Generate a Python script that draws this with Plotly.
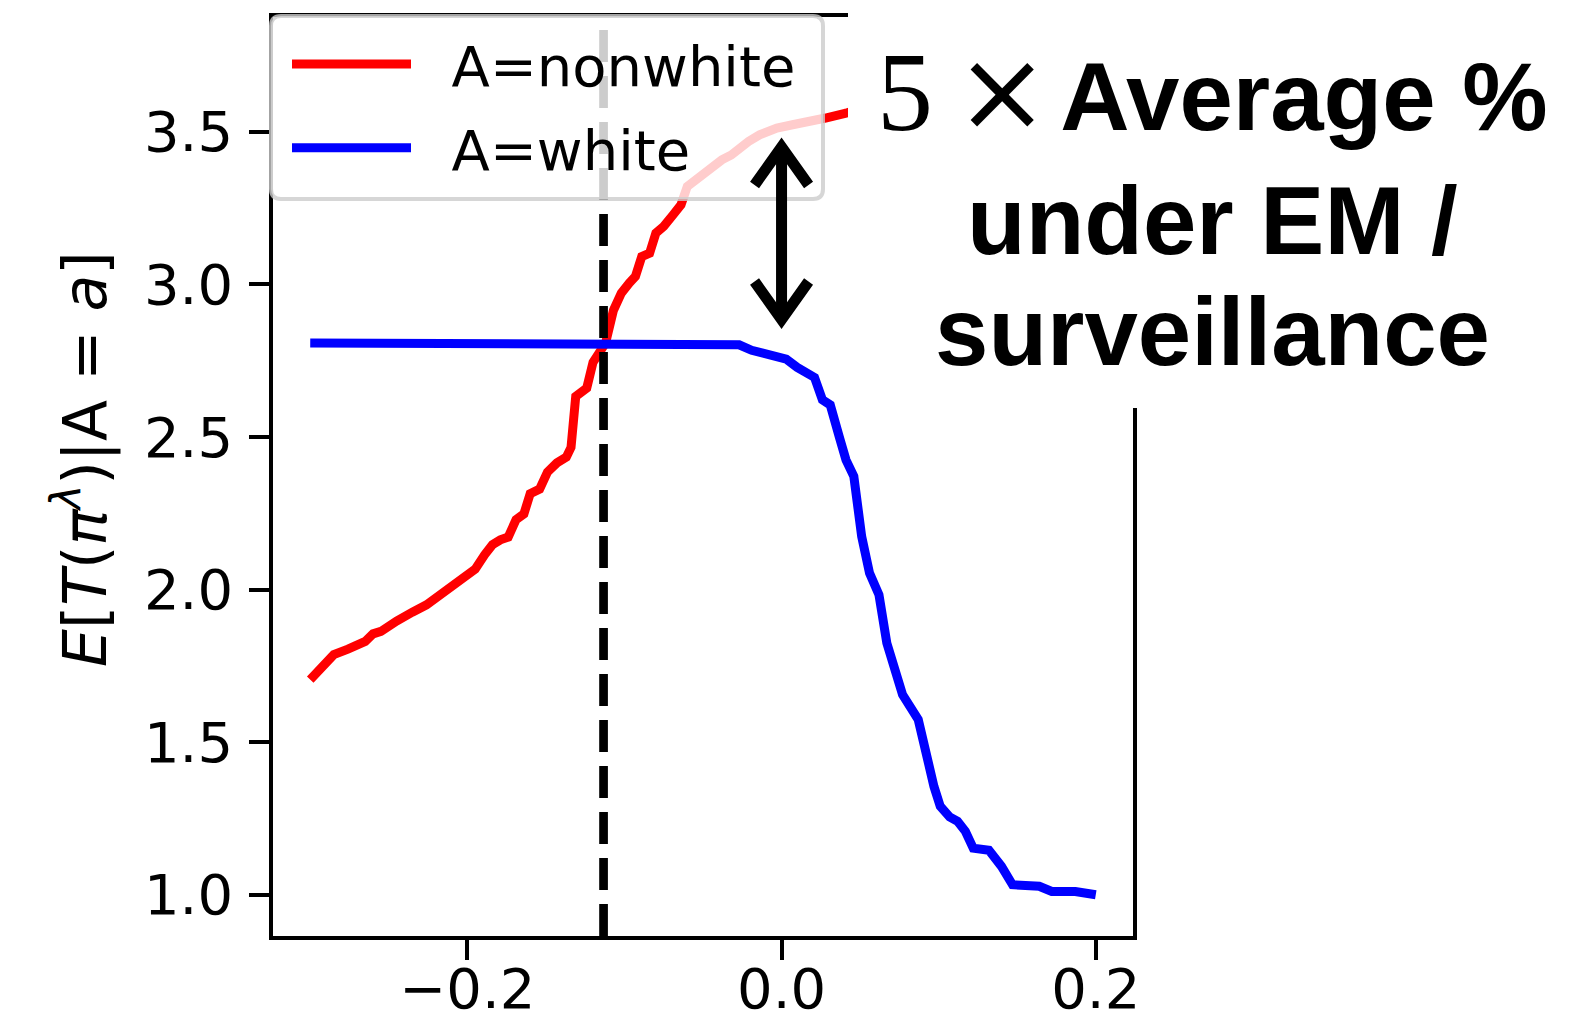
import plotly.graph_objects as go

# ---- data -------------------------------------------------------------
# expected outcome E[T(pi^lambda) | A = a] as the policy parameter varies
nonwhite_x = [-0.300, -0.294, -0.285, -0.276, -0.270, -0.265, -0.260, -0.255, -0.245, -0.240,
              -0.235, -0.226, -0.221, -0.215, -0.206, -0.200, -0.195, -0.189, -0.184, -0.179,
              -0.174, -0.169, -0.164, -0.160, -0.154, -0.149, -0.143, -0.137, -0.134, -0.131,
              -0.124, -0.120, -0.116, -0.112, -0.107, -0.102, -0.097, -0.093, -0.089, -0.084,
              -0.080, -0.075, -0.069, -0.064, -0.060, -0.055, -0.048, -0.044, -0.038, -0.032,
              -0.026, -0.021, -0.014, -0.009, -0.003, 0.007, 0.020, 0.028, 0.041, 0.045,
              0.060, 0.080, 0.100, 0.120, 0.150, 0.180, 0.200]
nonwhite_y = [1.705, 1.740, 1.787, 1.805, 1.823, 1.830, 1.855, 1.863, 1.897, 1.908,
              1.926, 1.950, 1.969, 1.989, 2.028, 2.054, 2.067, 2.114, 2.147, 2.163,
              2.172, 2.229, 2.248, 2.314, 2.329, 2.385, 2.415, 2.434, 2.466, 2.633,
              2.660, 2.745, 2.780, 2.808, 2.915, 2.971, 3.004, 3.026, 3.091, 3.102,
              3.168, 3.190, 3.228, 3.261, 3.321, 3.342, 3.375, 3.384, 3.408, 3.424,
              3.452, 3.468, 3.490, 3.501, 3.512, 3.523, 3.533, 3.545, 3.561, 3.568,
              3.600, 3.630, 3.650, 3.670, 3.700, 3.720, 3.736]

white_x = [-0.300, -0.033, -0.027, -0.019, -0.010, 0.003, 0.010, 0.021, 0.026, 0.031,
           0.037, 0.041, 0.046, 0.051, 0.056, 0.062, 0.067, 0.072, 0.077, 0.087,
           0.092, 0.097, 0.101, 0.107, 0.112, 0.117, 0.122, 0.132, 0.140, 0.147,
           0.164, 0.172, 0.187, 0.200]
white_y = [2.808, 2.808, 2.802, 2.784, 2.772, 2.755, 2.728, 2.695, 2.622, 2.605,
           2.496, 2.425, 2.371, 2.174, 2.054, 1.983, 1.825, 1.727, 1.656, 1.574,
           1.454, 1.355, 1.290, 1.255, 1.241, 1.208, 1.153, 1.146, 1.093, 1.033,
           1.028, 1.011, 1.011, 1.000]

series_names = ["A=nonwhite", "A=white"]
series_colors = ["#ff0000", "#0000ff"]

x_tick_vals = [-0.2, 0.0, 0.2]
x_tick_text = ["\u22120.2", "0.0", "0.2"]
y_tick_vals = [1.0, 1.5, 2.0, 2.5, 3.0, 3.5]
y_tick_text = ["1.0", "1.5", "2.0", "2.5", "3.0", "3.5"]
y_label = "<i>E</i>[<i>T</i>(<i>\u03c0</i><sup><i>\u03bb</i></sup>)|A = <i>a</i>]"

threshold_x = -0.1133          # dashed vertical reference
arrow_x = 0.0                  # double-headed gap arrow
arrow_top = 3.45
arrow_bottom = 2.885

x_range = [-0.3237, 0.2237]
y_range = [0.865, 3.876]

# ---- layout geometry (pixels) ----------------------------------------
FIG_W, FIG_H = 1579, 1025
PL, PR, PT, PB = 273, 1133, 17, 936
FONT = "DejaVu Sans"
TICK_SIZE = 56


def paper_x(px):
    return (px - PL) / (PR - PL)


def paper_y(py):
    return (PB - py) / (PB - PT)


x_per_px = (x_range[1] - x_range[0]) / (PR - PL)
y_per_px = (y_range[1] - y_range[0]) / (PB - PT)

fig = go.Figure()
fig.add_trace(go.Scatter(x=nonwhite_x, y=nonwhite_y, mode="lines",
                         name="\u00a0\u00a0" + series_names[0], legendgroup="g0",
                         line=dict(color=series_colors[0], width=9), hoverinfo="skip"))
fig.add_trace(go.Scatter(x=white_x, y=white_y, mode="lines",
                         name="\u00a0\u00a0" + series_names[1], legendgroup="g1",
                         line=dict(color=series_colors[1], width=9), hoverinfo="skip"))

shapes = []
# dashed vertical line across the whole axes
shapes.append(dict(type="line", xref="x", yref="paper", x0=threshold_x, x1=threshold_x,
                   y0=0, y1=1, layer="above",
                   line=dict(color="black", width=8.7, dash="32px,14px")))


def rounded_rect(x0, y0, x1, y1, r):
    """Rounded rectangle path in paper coordinates from pixel extents."""
    rx = r / (PR - PL)
    ry = r / (PB - PT)
    X0, X1 = paper_x(x0), paper_x(x1)
    Y0, Y1 = paper_y(y0), paper_y(y1)   # Y0 is top, Y1 is bottom
    return (f"M{X0 + rx},{Y0} L{X1 - rx},{Y0} Q{X1},{Y0} {X1},{Y0 - ry} "
            f"L{X1},{Y1 + ry} Q{X1},{Y1} {X1 - rx},{Y1} "
            f"L{X0 + rx},{Y1} Q{X0},{Y1} {X0},{Y1 + ry} "
            f"L{X0},{Y0 - ry} Q{X0},{Y0} {X0 + rx},{Y0} Z")


# legend frame: translucent white with a light grey rounded border
shapes.append(dict(type="path", xref="paper", yref="paper", layer="above",
                   path=rounded_rect(271, 16, 823, 199, 10),
                   fillcolor="rgba(255,255,255,0.8)",
                   line=dict(color="rgba(204,204,204,0.8)", width=4)))

# double-headed arrow
hx = 27 * x_per_px
hy = 38 * y_per_px
arrow_line = dict(color="black", width=11)
shapes.append(dict(type="line", xref="x", yref="y", layer="above",
                   x0=arrow_x, x1=arrow_x, y0=arrow_bottom, y1=arrow_top, line=arrow_line))
shapes.append(dict(type="path", xref="x", yref="y", layer="above", line=arrow_line,
                   path=f"M{arrow_x - hx},{arrow_top - hy} L{arrow_x},{arrow_top} L{arrow_x + hx},{arrow_top - hy}"))
shapes.append(dict(type="path", xref="x", yref="y", layer="above", line=arrow_line,
                   path=f"M{arrow_x - hx},{arrow_bottom + hy} L{arrow_x},{arrow_bottom} L{arrow_x + hx},{arrow_bottom + hy}"))

# white box behind the side caption
shapes.append(dict(type="rect", xref="paper", yref="paper", layer="above",
                   x0=paper_x(848), x1=paper_x(FIG_W + 20), y0=paper_y(408), y1=paper_y(-20),
                   fillcolor="white", line=dict(width=0)))

caption_x = paper_x(1212)
caption_font = dict(family="Liberation Sans", size=96, color="black")
five_style = "font-family:'Liberation Serif'; font-size:112px; font-weight:normal"
times_style = "font-family:'DejaVu Sans'; font-size:112px; font-weight:normal"
caption_lines = [
    (f'<span style="{five_style}">5</span>'
     f'<span style="{times_style}">\u2009\u00d7</span>'
     f'<span style="font-size:22px">\u2002</span><b>Average %</b>', 91),
    ("<b>under EM /</b>", 221),
    ("<b>surveillance</b>", 331),
]
annotations = []
for text, mid_px in caption_lines:
    annotations.append(dict(text=text, xref="paper", yref="paper", x=caption_x, y=paper_y(mid_px),
                            xanchor="center", yanchor="middle", showarrow=False,
                            font=caption_font, borderpad=0))

# rotated y-axis label
annotations.append(dict(text=y_label, xref="paper", yref="paper",
                        x=paper_x(81), y=paper_y(459), textangle=-90,
                        xanchor="center", yanchor="middle", showarrow=False,
                        font=dict(family=FONT, size=60, color="black"), borderpad=0))

axis_common = dict(
    showline=True, linewidth=3.5, linecolor="black", mirror=True,
    ticks="outside", ticklen=20, tickwidth=3.5, tickcolor="black",
    showgrid=False, zeroline=False, automargin=False,
    tickfont=dict(family=FONT, size=TICK_SIZE, color="black"),
)

fig.update_layout(
    width=FIG_W, height=FIG_H, autosize=False,
    margin=dict(l=PL, r=FIG_W - PR, t=PT, b=FIG_H - PB, pad=0),
    paper_bgcolor="white", plot_bgcolor="white",
    shapes=shapes, annotations=annotations,
    showlegend=True,
    legend=dict(x=paper_x(287), y=paper_y(21), xanchor="left", yanchor="top",
                bgcolor="rgba(0,0,0,0)", borderwidth=0, itemwidth=119,
                traceorder="grouped", tracegroupgap=8,
                font=dict(family=FONT, size=56, color="black")),
    xaxis=dict(range=x_range, tickmode="array", tickvals=x_tick_vals, ticktext=x_tick_text,
               ticklabelstandoff=-19, **axis_common),
    yaxis=dict(range=y_range, tickmode="array", tickvals=y_tick_vals, ticktext=y_tick_text,
               ticklabelstandoff=5, **axis_common),
)

fig.write_html("out.html")
